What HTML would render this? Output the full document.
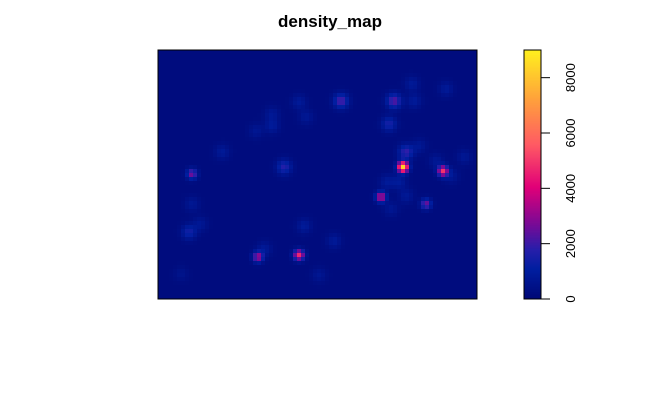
<!DOCTYPE html>
<html><head><meta charset="utf-8">
<style>
html,body{margin:0;padding:0;background:#fff;}
svg{display:block;font-family:"Liberation Sans",sans-serif;}
</style></head>
<body>
<svg id="chart" width="661" height="408" viewBox="0 0 661 408">
  <defs><clipPath id="pc"><rect x="158" y="50" width="319" height="249"/></clipPath></defs>
  <text x="330" y="27" text-anchor="middle" font-size="17" font-weight="bold">density_map</text>
  <g id="cells" clip-path="url(#pc)" shape-rendering="crispEdges"></g>
  <rect x="158" y="50" width="319" height="249" fill="none" stroke="#000" stroke-width="1"/>
  <g id="legend"></g>
</svg>
<script>
// hotspot data (x, y in map units 0..320 / 0..250, peak intensity)
const hotX = [246,286,224,142,101,35,269,237,184,127,249,232,32,257,255,289,142,115,149,65,35,43,147,177,107,162,249,230,242,262,307,279,294,234,115,99,24];
const hotY = [118,122,148,206,208,125,155,52,52,118,103,75,183,52,35,40,53,77,68,103,155,175,177,192,200,226,147,133,133,97,108,112,127,160,65,82,225];
const hotV = [8300,4800,3700,4700,3200,2700,2600,2300,2200,1700,1900,1500,1400,900,850,850,850,900,750,850,750,750,900,850,850,700,800,850,900,750,750,750,750,700,750,700,550];
const legendTicks = [0,2000,4000,6000,8000];
const zMax = 9000;
const baseVal = 200;

const NS='http://www.w3.org/2000/svg';
const px0=158, py0=50, pw=319, ph=249, mapW=320, mapH=250;
const xS = v => px0 + v/mapW*pw;
const yS = v => py0 + v/mapH*ph;

const stops=[[0,[0,8,118]],[0.12,[0,30,160]],[0.2,[40,30,170]],[0.3,[120,10,150]],[0.45,[225,0,120]],[0.62,[255,90,100]],[0.8,[255,160,60]],[1,[255,240,30]]];
function col(v){
  let t=Math.max(0,Math.min(1,v/zMax));
  for(let i=1;i<stops.length;i++){
    if(t<=stops[i][0]){
      const a=stops[i-1],b=stops[i],f=(t-a[0])/(b[0]-a[0]);
      const c=a[1].map((x,k)=>Math.round(x+(b[1][k]-x)*f));
      return `rgb(${c[0]},${c[1]},${c[2]})`;
    }
  }
  return 'rgb(255,240,30)';
}
const g=document.getElementById('cells');
const cs=4;
for(let gy=0;gy<mapH;gy+=cs){
  for(let gx=0;gx<mapW;gx+=cs){
    const cx=gx+cs/2, cy=gy+cs/2;
    let v=baseVal;
    for(let i=0;i<hotX.length;i++){
      const d2=(cx-hotX[i])**2+(cy-hotY[i])**2;
      const s=hotV[i]>2500?3.5:5;
      v+=(hotV[i]-baseVal)*Math.exp(-d2/(2*s*s));
    }
    const r=document.createElementNS(NS,'rect');
    r.setAttribute('x',Math.floor(xS(gx)));r.setAttribute('y',Math.floor(yS(gy)));
    r.setAttribute('width',5);r.setAttribute('height',5);
    r.setAttribute('fill',col(v));
    
    
    g.appendChild(r);
  }
}
// legend
const lg=document.getElementById('legend');
const lx=524,lw=17,ly0=50,lh=249;
const lY=v=>ly0+lh-v/zMax*lh;
for(let i=0;i<lh;i++){
  const r=document.createElementNS(NS,'rect');
  r.setAttribute('x',lx);r.setAttribute('y',ly0+lh-i-1);r.setAttribute('width',lw);r.setAttribute('height',1.2);
  r.setAttribute('fill',col((i+0.5)/lh*zMax));
  
  
  lg.appendChild(r);
}
const br=document.createElementNS(NS,'rect');
br.setAttribute('x',lx);br.setAttribute('y',ly0);br.setAttribute('width',lw);br.setAttribute('height',lh);
br.setAttribute('fill','none');br.setAttribute('stroke','#000');


lg.appendChild(br);
legendTicks.forEach(t=>{
  const y=lY(t);
  const l=document.createElementNS(NS,'line');
  l.setAttribute('x1',lx+lw);l.setAttribute('x2',lx+lw+9);l.setAttribute('y1',y);l.setAttribute('y2',y);l.setAttribute('stroke','#000');
  
  
  lg.appendChild(l);
  const tx=document.createElementNS(NS,'text');
  tx.setAttribute('transform',`translate(575,${y}) rotate(-90)`);
  tx.setAttribute('text-anchor','middle');tx.setAttribute('font-size','13');
  tx.textContent=t;
  
  
  lg.appendChild(tx);
});
</script>
</body></html>
